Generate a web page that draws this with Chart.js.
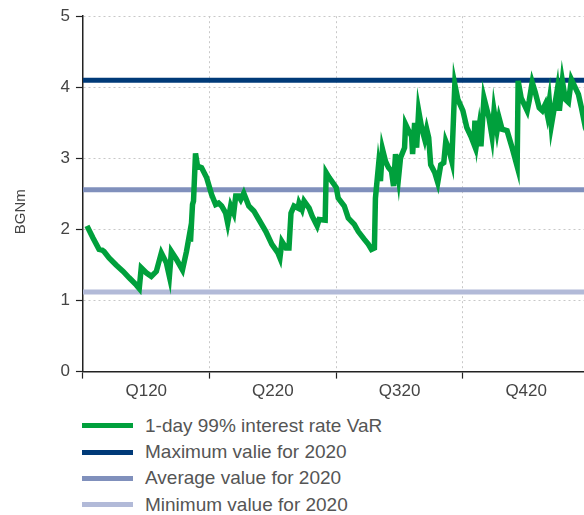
<!DOCTYPE html>
<html>
<head>
<meta charset="utf-8">
<script src="https://cdn.jsdelivr.net/npm/chart.js@4.4.0/dist/chart.umd.min.js"></script>
<style>
  html, body { margin: 0; padding: 0; background: #fff; overflow: hidden; }
  body { width: 584px; height: 515px; position: relative; }
  .chartBox { position: absolute; left: 0; top: 0; width: 600px; height: 405px; }
  .legend { position: absolute; left: 82px; top: 412.5px; list-style: none; margin: 0; padding: 0;
    font-family: "Liberation Sans", Arial, sans-serif; font-size: 19px; color: #555; }
  .legend li { height: 26.4px; display: flex; align-items: center; white-space: nowrap; }
  .legend span { display: inline-block; width: 51px; height: 5px; margin-right: 12px; }
</style>
</head>
<body>
<div class="chartBox"><canvas id="myChart"></canvas></div>
<ul class="legend" id="legend"></ul>
<script>
/* data (x = trading day of 2020, 63 per quarter) */
let quarters = ["Q120", "Q220", "Q320", "Q420"];
let days = [2, 5, 8, 9.5, 10.5, 13, 16.5, 20, 23, 26.5,
  28, 29, 31.5, 34, 36.5, 39, 41.5, 43, 44, 46.5,
  49.5, 51.5, 53, 53.5, 54.5, 55, 56, 57, 59, 61.5,
  64, 66, 67.5, 69, 71, 72, 73.5, 75, 76, 77.5,
  78.5, 80, 81, 82.5, 85, 87.5, 91, 94, 97, 98,
  99, 101, 102.5, 103.5, 105, 107, 107.5, 109, 110, 112.5,
  114, 116.5, 117.5, 120.5, 121, 122.5, 126, 127, 130, 132,
  135, 137, 140, 142, 143.5, 145, 145.5, 147, 148, 149,
  150.5, 152, 153.5, 154.5, 155.5, 157, 158, 160, 160.5, 162,
  163.5, 164, 165, 166, 167, 168.5, 170, 171, 172, 173,
  175, 176.5, 178, 179.5, 180.5, 182, 183.5, 185, 186.5, 189,
  191, 193, 194.5, 195, 196, 197, 198, 199.5, 202, 203.5,
  204.5, 206, 207, 208.5, 211, 213.5, 216, 216.5, 218, 219.5,
  221, 222, 223.5, 225, 227, 228.5, 230, 231, 232, 233,
  234.5, 236, 237, 238.5, 240, 241.5, 243, 244.5, 246.5, 248,
  250, 252];
let varValues = [2.05, 1.88, 1.72, 1.71, 1.69, 1.60, 1.50, 1.41, 1.32, 1.22,
  1.17, 1.46, 1.39, 1.34, 1.41, 1.67, 1.53, 1.34, 1.69, 1.58,
  1.43, 1.69, 1.93, 1.83, 2.35, 2.40, 3.07, 2.89, 2.87, 2.73,
  2.49, 2.35, 2.37, 2.33, 2.23, 2.09, 2.33, 2.23, 2.47, 2.47,
  2.42, 2.51, 2.44, 2.33, 2.26, 2.14, 1.97, 1.79, 1.67, 1.60,
  1.83, 1.74, 1.74, 2.23, 2.33, 2.30, 2.37, 2.28, 2.40, 2.30,
  2.19, 2.05, 2.14, 2.13, 2.80, 2.73, 2.59, 2.44, 2.33, 2.16,
  2.07, 1.97, 1.86, 1.79, 1.72, 1.74, 2.44, 2.89, 2.68, 3.13,
  2.96, 2.87, 2.82, 2.61, 3.06, 2.73, 3.01, 3.15, 3.48, 3.39,
  3.31, 3.06, 3.50, 3.15, 3.67, 3.43, 3.27, 3.41, 3.29, 2.91,
  2.80, 2.66, 2.91, 2.94, 3.24, 3.13, 2.96, 4.04, 3.83, 3.67,
  3.43, 3.31, 3.20, 3.53, 3.24, 3.43, 3.17, 3.85, 3.57, 3.31,
  3.67, 3.39, 3.57, 3.41, 3.39, 3.15, 2.89, 4.09, 3.85, 3.76,
  3.67, 3.81, 4.07, 3.93, 3.71, 3.67, 3.76, 3.62, 3.81, 3.46,
  3.71, 3.97, 3.67, 4.09, 3.83, 3.79, 4.11, 4.02, 3.90, 3.71,
  3.43, 3.30];
let maxValue = 4.1;
let avgValue = 2.56;
let minValue = 1.12;
let yTicks = [0, 1, 2, 3, 4, 5];
let yearDays = 252;
let yTitle = 'BGNm';

function flat(v) {
  return [{ x: 0, y: v }, { x: yearDays, y: v }];
}

Chart.defaults.font.family = '"Liberation Sans", Arial, sans-serif';
Chart.defaults.font.size = 17;
Chart.defaults.color = '#444';

let gridOpts = { color: '#c8c8c8', lineWidth: 1, tickColor: '#222', tickLength: 7, tickWidth: 1.2 };
let borderOpts = { color: '#222', width: 1.5, dash: [2, 3] };

/* y title sits a little below the middle of the axis in the original */
let yTitlePlugin = {
  id: 'yTitle',
  afterDraw(chart) {
    let c = chart.ctx;
    let y = chart.scales.y.getPixelForValue(2.25);
    c.save();
    c.translate(21, y);
    c.rotate(-Math.PI / 2);
    c.font = '15px "Liberation Sans", Arial, sans-serif';
    c.fillStyle = '#444';
    c.textAlign = 'center';
    c.textBaseline = 'middle';
    c.fillText(yTitle, 0, 0);
    c.restore();
  }
};

let ctx = document.getElementById('myChart').getContext('2d');
let my_chart = new Chart(ctx, {
  type: 'line',
  data: {
    datasets: [{
      label: '1-day 99% interest rate VaR',
      data: days.map((d, i) => ({ x: d, y: varValues[i] })),
      borderColor: '#00a03c',
      backgroundColor: '#00a03c',
      borderWidth: 5.5,
    }, {
      label: 'Maximum valie for 2020',
      data: flat(maxValue),
      borderColor: '#003a78',
      backgroundColor: '#003a78',
      borderWidth: 5,
    }, {
      label: 'Average value for 2020',
      data: flat(avgValue),
      borderColor: '#8090bc',
      backgroundColor: '#8090bc',
      borderWidth: 5,
    }, {
      label: 'Minimum value for 2020',
      data: flat(minValue),
      borderColor: '#b2bad8',
      backgroundColor: '#b2bad8',
      borderWidth: 5,
    }]
  },
  options: {
    responsive: true,
    maintainAspectRatio: false,
    animation: false,
    elements: { point: { radius: 0 }, line: { tension: 0, fill: false } },
    layout: { padding: { left: 54.5, right: 10.5, top: 6, bottom: 0 } },
    plugins: { legend: { display: false }, tooltip: { enabled: false } },
    scales: {
      x: {
        type: 'linear', min: 0, max: yearDays,
        afterBuildTicks: function (s) {
          s.ticks = quarters.map((q, i) => ({ value: (i + 0.5) * yearDays / 4 }));
        },
        ticks: { callback: (v, i) => quarters[i], autoSkip: false, maxRotation: 0, padding: 3 },
        grid: Object.assign({ offset: true }, gridOpts),
        border: borderOpts,
      },
      y: {
        min: 0, max: 5,
        afterBuildTicks: function (s) {
          s.ticks = yTicks.map(v => ({ value: v }));
        },
        ticks: { padding: 6 },
        grid: gridOpts,
        border: borderOpts,
      }
    }
  },
  plugins: [yTitlePlugin]
});

/* legend as a plain list */
let legend = document.getElementById('legend');
my_chart.data.datasets.forEach(ds => {
  legend.innerHTML += `<li><span style="background:${ds.borderColor}"></span>${ds.label}</li>`;
});
</script>
</body>
</html>
